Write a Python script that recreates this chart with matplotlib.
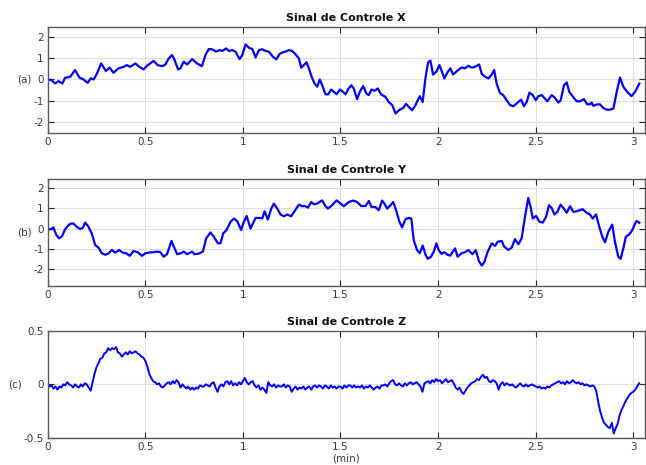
import numpy as np
import matplotlib
matplotlib.use("Agg")
import matplotlib.pyplot as plt

# ---------------- data ----------------
t_x = [0, 0.02, 0.038, 0.055, 0.075, 0.089, 0.115, 0.14, 0.163, 0.18,
       0.205, 0.22, 0.235, 0.25, 0.274, 0.298, 0.317, 0.337, 0.363, 0.389,
       0.406, 0.423, 0.449, 0.469, 0.491, 0.509, 0.543, 0.563, 0.586, 0.603,
       0.62, 0.637, 0.65, 0.668, 0.68, 0.697, 0.714, 0.74, 0.765, 0.79,
       0.808, 0.825, 0.842, 0.863, 0.88, 0.894, 0.914, 0.928, 0.945, 0.962,
       0.983, 0.997, 1.014, 1.031, 1.048, 1.065, 1.082, 1.099, 1.116, 1.133,
       1.154, 1.171, 1.188, 1.205, 1.218, 1.235, 1.252, 1.27, 1.287, 1.299,
       1.312, 1.326, 1.338, 1.352, 1.367, 1.381, 1.394, 1.406, 1.423, 1.437,
       1.452, 1.466, 1.48, 1.497, 1.509, 1.526, 1.538, 1.555, 1.568, 1.585,
       1.599, 1.616, 1.633, 1.645, 1.659, 1.674, 1.691, 1.708, 1.73, 1.747,
       1.765, 1.782, 1.799, 1.821, 1.836, 1.85, 1.867, 1.884, 1.906, 1.921,
       1.935, 1.949, 1.961, 1.974, 1.991, 2.007, 2.02, 2.032, 2.05, 2.063,
       2.077, 2.099, 2.12, 2.138, 2.155, 2.172, 2.188, 2.21, 2.224, 2.241,
       2.258, 2.275, 2.287, 2.3, 2.317, 2.334, 2.351, 2.369, 2.386, 2.406,
       2.425, 2.44, 2.454, 2.468, 2.485, 2.5, 2.514, 2.531, 2.544, 2.56,
       2.582, 2.599, 2.616, 2.628, 2.645, 2.659, 2.672, 2.688, 2.71, 2.727,
       2.747, 2.764, 2.778, 2.787, 2.795, 2.812, 2.829, 2.846, 2.863, 2.881,
       2.898, 2.915, 2.932, 2.949, 2.969, 2.991, 3.009, 3.031]
sig_x = [0, -0.03, -0.19, -0.08, -0.19, 0.08, 0.12, 0.44, 0.08, 0.02,
         -0.16, 0.05, 0.0, 0.23, 0.75, 0.39, 0.56, 0.31, 0.52, 0.59,
         0.67, 0.59, 0.75, 0.59, 0.47, 0.64, 0.87, 0.67, 0.62, 0.70,
         0.98, 1.14, 0.91, 0.47, 0.52, 0.83, 0.70, 0.95, 0.75, 0.62,
         1.14, 1.42, 1.41, 1.30, 1.37, 1.33, 1.45, 1.33, 1.37, 1.30,
         0.95, 1.14, 1.64, 1.48, 1.42, 1.03, 1.37, 1.41, 1.33, 1.30,
         1.06, 0.94, 1.19, 1.27, 1.30, 1.37, 1.33, 1.17, 0.98, 0.55,
         0.67, 0.80, 0.52, 0.13, -0.19, -0.34, 0.0, -0.27, -0.69, -0.70,
         -0.47, -0.58, -0.69, -0.47, -0.55, -0.69, -0.47, -0.27, -0.42, -0.92,
         -0.58, -0.31, -0.66, -0.73, -0.47, -0.53, -0.42, -0.70, -0.81, -1.05,
         -1.20, -1.59, -1.44, -1.33, -1.14, -1.28, -1.44, -1.20, -0.78, -1.05,
         0.05, 0.80, 0.88, 0.23, 0.36, 0.67, 0.36, 0.05, 0.36, 0.52,
         0.23, 0.41, 0.56, 0.52, 0.64, 0.55, 0.59, 0.70, 0.25, 0.13,
         0.05, 0.23, 0.44, -0.19, -0.63, -0.73, -0.97, -1.20, -1.25, -1.09,
         -0.94, -1.25, -1.05, -0.61, -0.73, -0.97, -0.78, -0.73, -0.86, -1.02,
         -0.73, -0.86, -1.08, -0.97, -0.27, -0.14, -0.58, -0.77, -1.02, -1.02,
         -0.92, -1.16, -1.16, -1.08, -1.23, -1.17, -1.16, -1.33, -1.41, -1.41,
         -1.36, -0.58, 0.09, -0.34, -0.58, -0.78, -0.58, -0.19]

t_y = [0, 0.015, 0.029, 0.043, 0.058, 0.072, 0.089, 0.106, 0.118, 0.132,
       0.149, 0.166, 0.18, 0.192, 0.209, 0.226, 0.243, 0.26, 0.277, 0.295,
       0.312, 0.329, 0.346, 0.366, 0.384, 0.402, 0.42, 0.44, 0.461, 0.483,
       0.5, 0.517, 0.539, 0.56, 0.577, 0.594, 0.611, 0.634, 0.646, 0.663,
       0.683, 0.697, 0.714, 0.74, 0.752, 0.774, 0.795, 0.812, 0.834, 0.851,
       0.872, 0.885, 0.899, 0.916, 0.937, 0.954, 0.971, 0.991, 1.005, 1.019,
       1.039, 1.065, 1.087, 1.099, 1.111, 1.128, 1.145, 1.159, 1.176, 1.193,
       1.21, 1.227, 1.247, 1.264, 1.287, 1.304, 1.317, 1.333, 1.35, 1.363,
       1.38, 1.406, 1.423, 1.435, 1.457, 1.48, 1.5, 1.517, 1.543, 1.565,
       1.585, 1.606, 1.628, 1.645, 1.659, 1.679, 1.696, 1.713, 1.725, 1.739,
       1.756, 1.77, 1.785, 1.802, 1.816, 1.833, 1.85, 1.863, 1.875, 1.892,
       1.906, 1.921, 1.935, 1.947, 1.964, 1.978, 1.991, 2.003, 2.017, 2.032,
       2.049, 2.063, 2.07, 2.087, 2.1, 2.121, 2.138, 2.155, 2.176, 2.193,
       2.21, 2.224, 2.237, 2.253, 2.275, 2.292, 2.305, 2.326, 2.338, 2.36,
       2.377, 2.394, 2.411, 2.428, 2.445, 2.462, 2.474, 2.485, 2.502, 2.519,
       2.536, 2.553, 2.568, 2.582, 2.596, 2.611, 2.628, 2.642, 2.659, 2.676,
       2.693, 2.71, 2.724, 2.741, 2.761, 2.778, 2.792, 2.809, 2.826, 2.841,
       2.855, 2.872, 2.892, 2.906, 2.923, 2.935, 2.949, 2.962, 2.979, 2.995,
       3.009, 3.017, 3.031]
sig_y = [0, -0.04, 0.06, -0.29, -0.48, -0.40, -0.04, 0.17, 0.25, 0.25,
         0.09, -0.02, 0.04, 0.30, 0.09, -0.24, -0.81, -0.94, -1.22, -1.30,
         -1.22, -1.06, -1.19, -1.06, -1.19, -1.22, -1.35, -1.11, -1.17, -1.35,
         -1.22, -1.19, -1.17, -1.14, -1.17, -1.39, -1.27, -0.61, -0.89, -1.27,
         -1.22, -1.14, -1.27, -1.14, -1.27, -1.24, -1.14, -0.48, -0.19, -0.40,
         -0.73, -0.73, -0.24, -0.07, 0.34, 0.50, 0.37, -0.07, 0.34, 0.63,
         0.01, 0.53, 0.53, 0.50, 0.86, 0.45, 0.99, 1.24, 0.99, 0.70,
         0.61, 0.70, 0.61, 0.86, 1.19, 1.11, 1.12, 1.04, 1.32, 1.21,
         1.24, 1.40, 1.12, 0.99, 1.16, 1.40, 1.24, 1.11, 1.32, 1.39,
         1.32, 1.12, 1.12, 1.37, 1.07, 1.07, 0.91, 1.39, 1.24, 0.99,
         1.16, 1.32, 0.91, 0.34, 0.06, 0.47, 0.53, 0.50, -0.57, -1.06,
         -1.22, -0.84, -1.27, -1.50, -1.39, -1.14, -0.73, -1.06, -1.25, -1.17,
         -1.30, -1.34, -1.22, -0.98, -1.39, -1.22, -1.17, -1.06, -1.27, -1.07,
         -1.63, -1.83, -1.66, -1.17, -0.73, -0.86, -0.65, -0.61, -0.89, -1.06,
         -0.94, -0.52, -0.78, -0.48, 0.58, 1.52, 1.07, 0.50, 0.63, 0.34,
         0.30, 0.58, 1.16, 1.02, 0.70, 0.83, 1.19, 1.02, 0.79, 1.11,
         0.83, 0.86, 0.91, 0.96, 0.79, 0.70, 0.50, 0.70, 0.09, -0.40,
         -0.68, -0.16, 0.20, -0.65, -1.39, -1.50, -0.98, -0.40, -0.29, -0.07,
         0.25, 0.38, 0.29]

sig_z = [0.00, -0.02, -0.01, -0.04, -0.02, -0.05, -0.02, -0.03, 0.00, -0.01,
         0.02, 0.00, -0.01, -0.03, 0.00, -0.02, -0.03, 0.00, -0.02, 0.01,
         0.00, -0.03, -0.06, 0.02, 0.10, 0.16, 0.20, 0.24, 0.25, 0.29,
         0.30, 0.34, 0.32, 0.34, 0.33, 0.35, 0.30, 0.29, 0.26, 0.28,
         0.30, 0.28, 0.31, 0.29, 0.30, 0.31, 0.29, 0.28, 0.26, 0.25,
         0.22, 0.17, 0.10, 0.06, 0.03, 0.02, 0.00, 0.01, -0.02, -0.03,
         -0.01, 0.01, 0.02, 0.00, 0.03, 0.01, 0.04, 0.02, -0.03, 0.00,
         -0.02, -0.04, -0.02, -0.05, -0.03, -0.05, -0.03, -0.04, -0.01, -0.02,
         -0.02, 0.00, -0.01, -0.02, 0.01, 0.02, -0.03, -0.07, -0.02, 0.00,
         -0.02, 0.02, 0.03, 0.00, 0.03, -0.01, 0.01, -0.01, 0.02, 0.00,
         0.03, 0.06, 0.02, 0.00, 0.02, 0.03, -0.01, -0.03, -0.01, -0.05,
         -0.03, -0.05, -0.08, 0.02, -0.01, -0.02, 0.00, -0.03, -0.01, -0.02,
         -0.02, 0.00, -0.03, -0.01, -0.02, -0.07, -0.04, -0.02, -0.05, -0.03,
         -0.04, -0.02, -0.05, -0.03, -0.02, -0.05, -0.02, -0.01, -0.03, -0.01,
         -0.02, -0.04, -0.01, -0.02, -0.04, -0.01, -0.03, -0.02, -0.04, -0.02,
         -0.02, -0.04, -0.01, -0.03, -0.01, -0.01, -0.03, -0.01, -0.03, -0.02,
         -0.03, -0.01, -0.04, -0.02, -0.03, -0.01, -0.03, -0.05, -0.03, -0.02,
         -0.04, -0.01, -0.01, 0.00, -0.02, 0.01, 0.03, 0.04, 0.00, -0.01,
         0.01, -0.01, -0.02, 0.01, -0.01, 0.01, 0.02, 0.00, 0.01, 0.02,
         0.00, -0.02, -0.07, 0.01, 0.02, 0.03, 0.01, 0.04, 0.02, 0.05,
         0.03, 0.04, 0.01, 0.03, 0.05, 0.02, 0.03, 0.04, 0.01, -0.03,
         -0.05, -0.03, -0.07, -0.09, -0.06, -0.03, -0.01, 0.01, 0.02, 0.03,
         0.05, 0.04, 0.07, 0.09, 0.06, 0.07, 0.03, 0.02, 0.04, 0.03,
         0.01, -0.05, 0.00, 0.02, -0.01, 0.01, 0.00, -0.01, 0.00, -0.02,
         -0.03, -0.01, 0.01, -0.01, -0.02, 0.00, -0.02, -0.01, 0.00, -0.01,
         -0.02, -0.03, -0.02, -0.04, -0.03, -0.04, -0.02, -0.03, -0.01, 0.00,
         0.01, 0.02, 0.03, 0.01, 0.02, 0.00, 0.03, 0.01, 0.02, 0.04,
         0.02, 0.01, 0.02, 0.00, 0.01, -0.01, 0.00, -0.01, -0.02, -0.01,
         -0.02, -0.06, -0.16, -0.25, -0.31, -0.36, -0.38, -0.40, -0.41, -0.36,
         -0.46, -0.41, -0.37, -0.29, -0.24, -0.20, -0.16, -0.13, -0.10, -0.08,
         -0.07, -0.05, -0.02, 0.01]
t_z = np.round(np.arange(len(sig_z)) * 0.01, 2)

titles = ["Sinal de Controle X", "Sinal de Controle Y", "Sinal de Controle Z"]
panel_labels = ["(a)", "(b)", "(c)"]
x_ticks = [0, 0.5, 1, 1.5, 2, 2.5, 3]
x_ticklabels = ["0", "0.5", "1", "1.5", "2", "2.5", "3"]
yticks_xy = [-2, -1, 0, 1, 2]
yticks_z = [-0.5, 0, 0.5]
yticklabels_z = ["-0.5", "0", "0.5"]

# ---------------- figure ----------------
plt.rcParams['font.family'] = ['DejaVu Sans']
fig = plt.figure(figsize=(6.46, 4.65), dpi=100)

W, H = 646.0, 465.0
left_px, right_px = 47.7, 645.0
boxes = [(27, 133), (179, 285.7), (331, 437.7)]
ylims = [(-2.5, 2.45), (-2.83, 2.46), (-0.5, 0.5)]
series = [(t_x, sig_x), (t_y, sig_y), (t_z, sig_z)]
label_x = [-0.039, -0.039, -0.055]

text_col = '#3a3a3a'
for i in range(3):
    top, bot = boxes[i]
    ax = fig.add_axes([left_px / W, 1 - bot / H, (right_px - left_px) / W, (bot - top) / H])
    t, s = series[i]
    ax.plot(t, s, color='#0000ff', lw=1.6 if i < 2 else 1.4, solid_joinstyle='round')
    ax.set_xlim(0, 3.06)
    ax.set_ylim(*ylims[i])
    ax.set_xticks(x_ticks)
    ax.set_xticklabels(x_ticklabels)
    if i < 2:
        ax.set_yticks(yticks_xy)
        ax.set_yticklabels([str(v) for v in yticks_xy])
    else:
        ax.set_yticks(yticks_z)
        ax.set_yticklabels(yticklabels_z)
    ax.grid(True, color='#dedede', lw=0.8)
    ax.set_axisbelow(True)
    ax.tick_params(direction='in', top=True, right=True, length=4, width=0.8,
                   labelsize=7.5, colors='#262626', labelcolor=text_col, pad=3)
    for sp in ax.spines.values():
        sp.set_color('#5a5a5a')
        sp.set_linewidth(1.0)
    ax.set_title(titles[i], fontsize=8, fontweight='bold', color='#111111', pad=4)
    ax.set_ylabel(panel_labels[i], rotation=0, fontsize=7.5, color=text_col,
                  ha='center', va='center')
    ax.yaxis.set_label_coords(label_x[i], 0.5)
    if i == 2:
        ax.set_xlabel("(min)", fontsize=7.5, color=text_col, labelpad=1)

fig.savefig("out.png", dpi=100)
